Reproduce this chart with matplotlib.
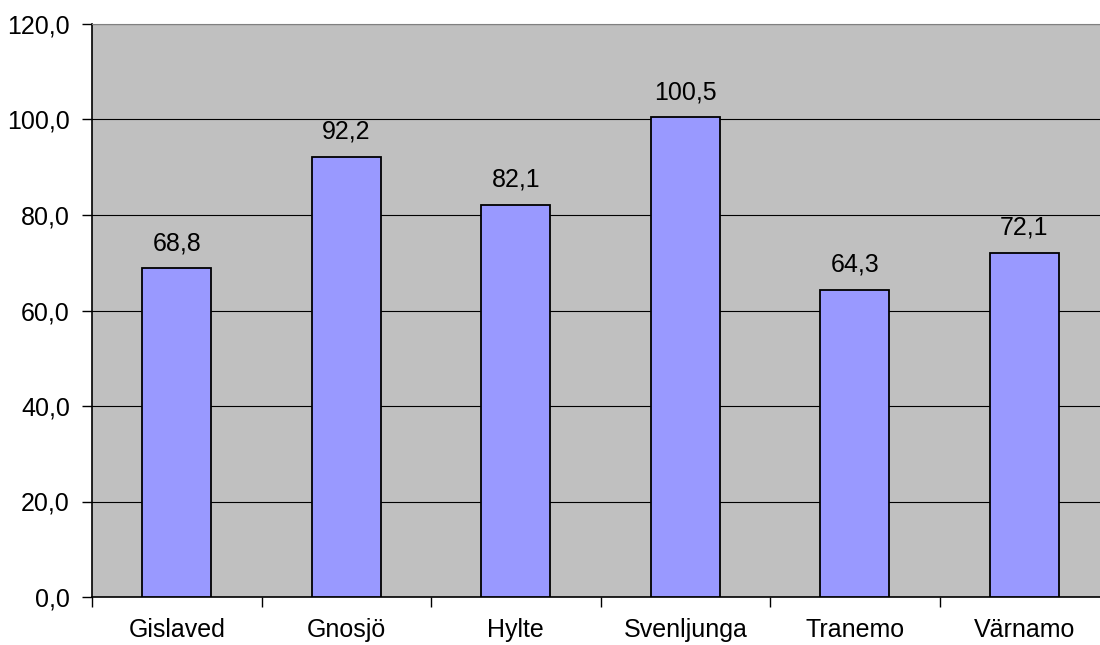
import matplotlib
matplotlib.use("Agg")
import matplotlib.pyplot as plt
import numpy as np

plt.rcParams['font.family'] = ['Liberation Sans', 'DejaVu Sans']

# data
kommuner = ["Gislaved", "Gnosjö", "Hylte", "Svenljunga", "Tranemo", "Värnamo"]
values = [68.8, 92.2, 82.1, 100.5, 64.3, 72.1]
y_ticks = [0, 20, 40, 60, 80, 100, 120]

fig = plt.figure(figsize=(11, 6.45), dpi=100)
# plot area runs a bit past the right edge, like the original
ax = fig.add_axes([92 / 1100, 1 - 597 / 645, 1017 / 1100, (597 - 24) / 645])
ax.set_facecolor("#C0C0C0")

x = np.arange(len(kommuner))
bars = ax.bar(x, values, width=0.41, color="#9999FF", edgecolor="black", linewidth=1.3, zorder=3)

for b, v in zip(bars, values):
    ax.annotate(f"{v:.1f}".replace(".", ","), (b.get_x() + b.get_width() / 2, v),
                xytext=(0, 13), textcoords="offset points", ha="center", va="baseline",
                fontsize=18)

ax.set_xlim(-0.5, len(kommuner) - 0.5)
ax.set_ylim(0, 120)
ax.set_yticks(y_ticks)
ax.set_yticklabels([f"{t:.1f}".replace(".", ",") for t in y_ticks], fontsize=18)
ax.yaxis.grid(True, color="black", linewidth=0.8, zorder=0)
ax.set_axisbelow(True)

# category ticks sit between the bars
ax.set_xticks(x)
ax.set_xticklabels(kommuner, fontsize=18)
ax.set_xticks(np.arange(len(kommuner) + 1) - 0.5, minor=True)
ax.tick_params(axis="x", which="major", length=0, pad=15)
ax.tick_params(axis="x", which="minor", length=7, width=1, direction="out")
ax.tick_params(axis="y", length=7, width=1, direction="out", pad=9)

ax.spines["right"].set_visible(False)
ax.spines["top"].set_color("#808080")
ax.spines["left"].set_linewidth(1.2)
ax.spines["bottom"].set_linewidth(1.2)

fig.savefig("out.png", dpi=100)
